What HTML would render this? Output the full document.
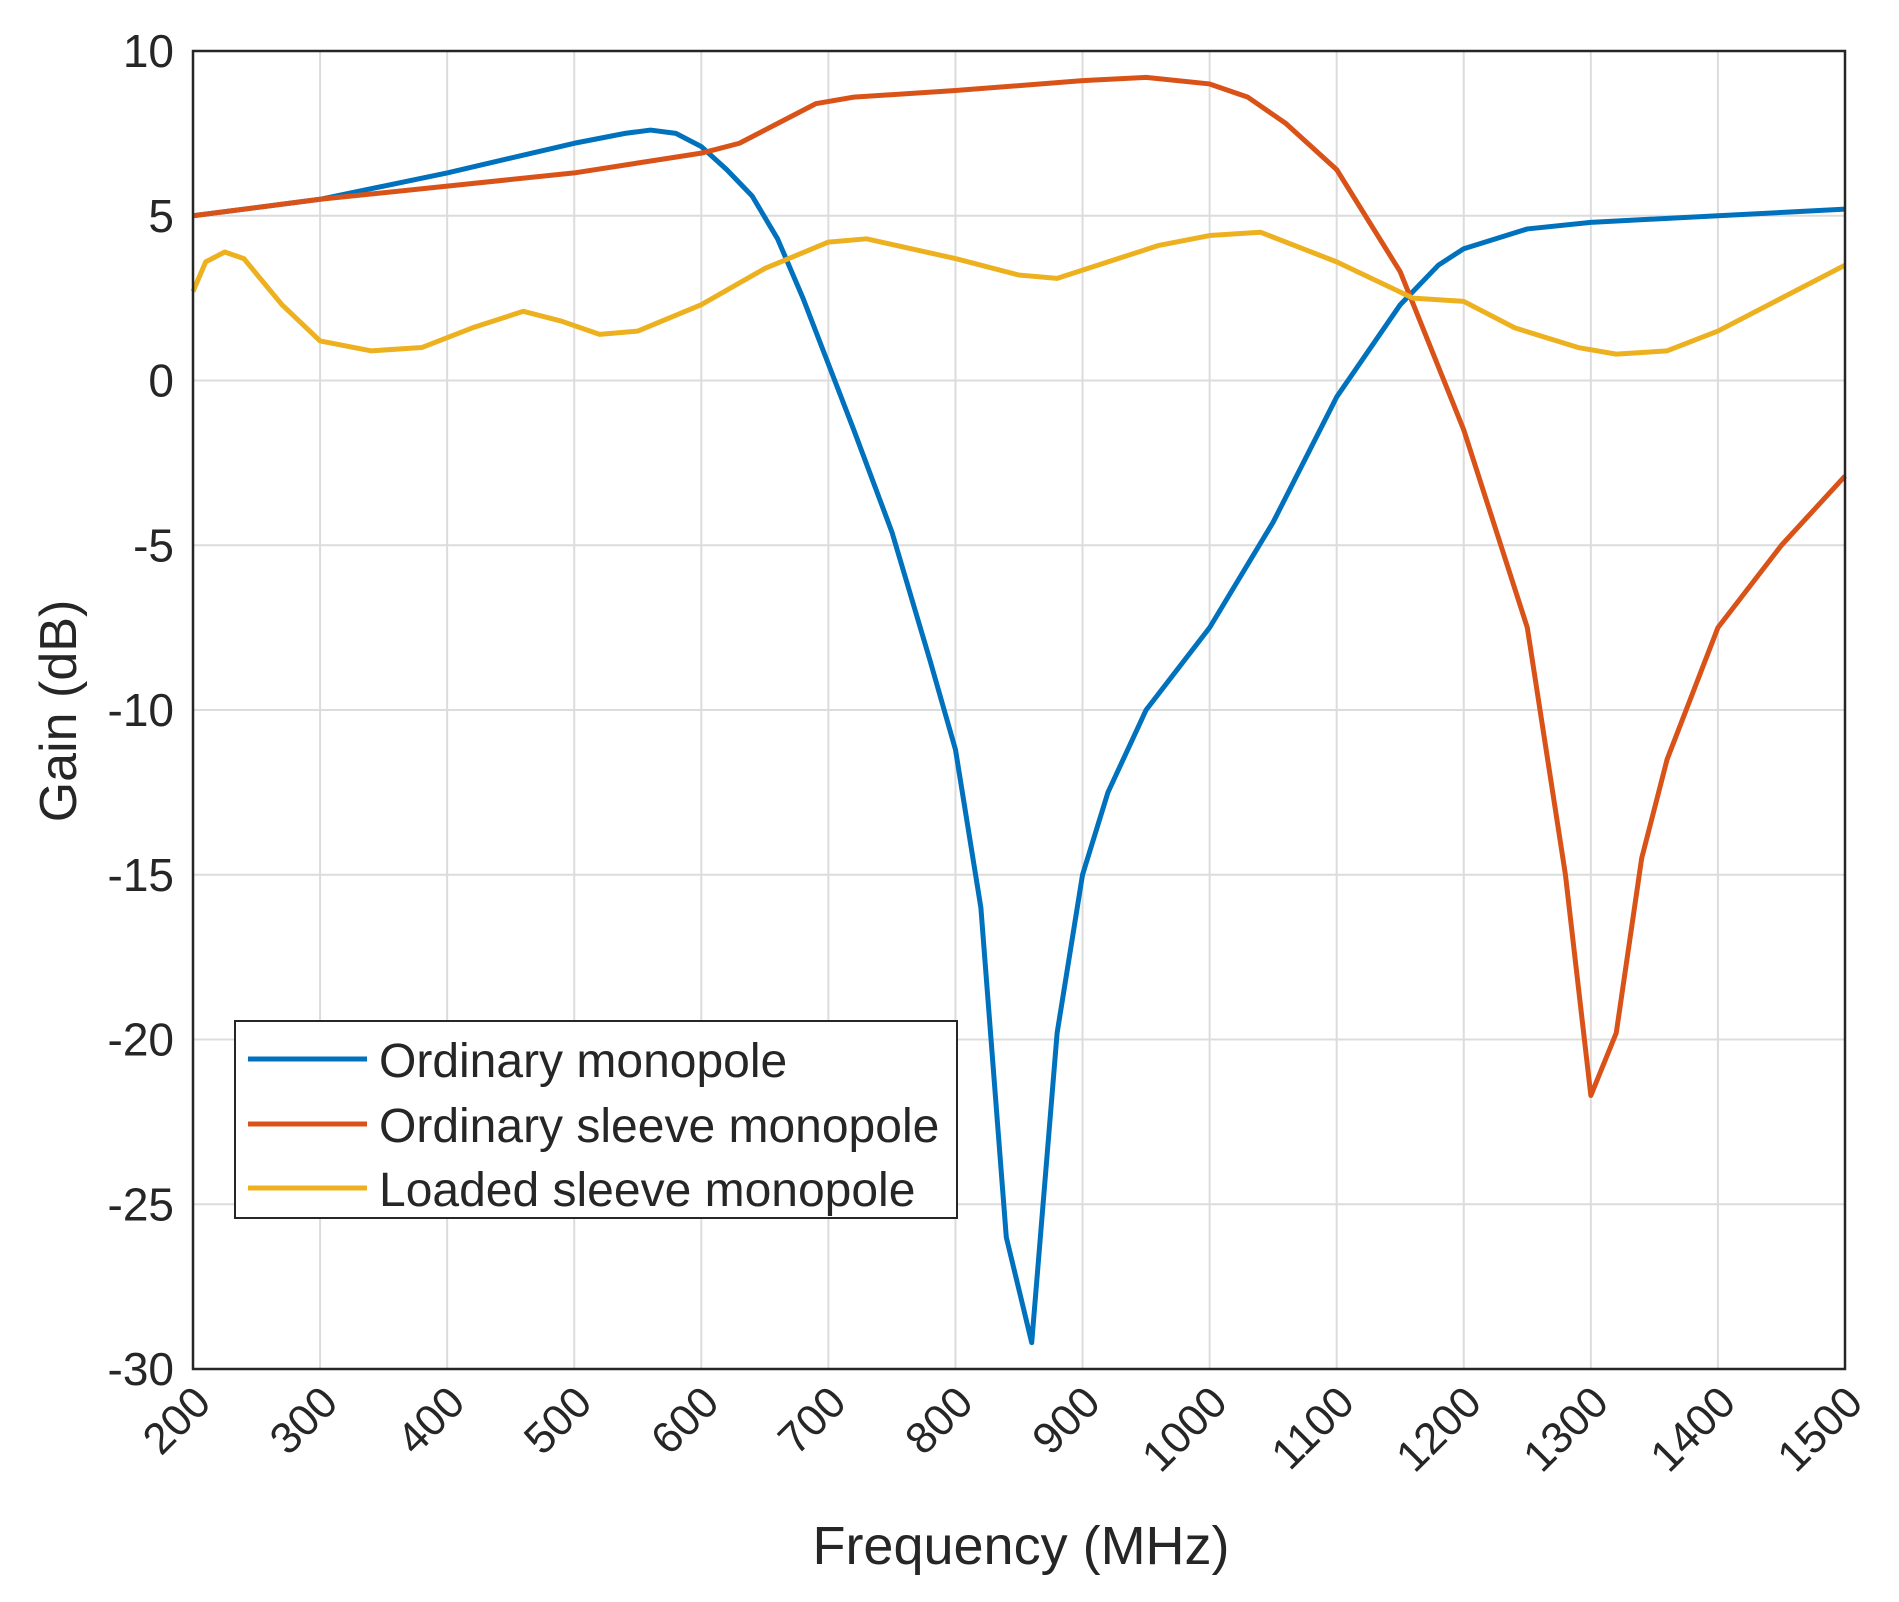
<!DOCTYPE html>
<html><head><meta charset="utf-8"><style>html,body{margin:0;padding:0;background:#fff}svg{display:block}text{font-family:"Liberation Sans",sans-serif;fill:#262626}</style></head>
<body>
<svg id="chart" width="1899" height="1602" viewBox="0 0 1899 1602" xmlns="http://www.w3.org/2000/svg">
<g id="grid"></g>
<g id="series"></g>
<rect x="193" y="51" width="1652" height="1318" fill="none" stroke="#262626" stroke-width="2.5"/>
<g id="ticks"></g>
<text x="1021" y="1564" font-size="54" text-anchor="middle">Frequency (MHz)</text>
<text transform="translate(76,711) rotate(-90)" font-size="52" text-anchor="middle">Gain (dB)</text>
<g>
<rect x="235" y="1021" width="722" height="197" fill="#fff" stroke="#262626" stroke-width="2"/>
<line x1="248" y1="1059" x2="367" y2="1059" stroke="#0072BD" stroke-width="5"/>
<text x="379" y="1077" font-size="48">Ordinary monopole</text>
<line x1="248" y1="1124" x2="367" y2="1124" stroke="#D95319" stroke-width="5"/>
<text x="379" y="1142" font-size="48">Ordinary sleeve monopole</text>
<line x1="248" y1="1188" x2="367" y2="1188" stroke="#EDB120" stroke-width="5"/>
<text x="379" y="1206" font-size="48">Loaded sleeve monopole</text>
</g>
</svg>
<script>
const xTicks=[200,300,400,500,600,700,800,900,1000,1100,1200,1300,1400,1500];
const yTicks=[10,5,0,-5,-10,-15,-20,-25,-30];
const blueF=[200,300,400,500,540,560,580,600,620,640,660,680,700,720,750,780,800,820,840,860,880,900,920,950,1000,1050,1100,1150,1180,1200,1250,1300,1400,1500];
const blueG=[5.0,5.5,6.3,7.2,7.5,7.6,7.5,7.1,6.4,5.6,4.3,2.5,0.5,-1.5,-4.6,-8.5,-11.2,-16,-26,-29.2,-19.8,-15,-12.5,-10,-7.5,-4.3,-0.5,2.3,3.5,4.0,4.6,4.8,5.0,5.2];
const orangeF=[200,300,400,500,600,630,660,690,720,800,900,950,1000,1030,1060,1100,1150,1200,1250,1280,1300,1320,1340,1360,1400,1450,1500];
const orangeG=[5.0,5.5,5.9,6.3,6.9,7.2,7.8,8.4,8.6,8.8,9.1,9.2,9.0,8.6,7.8,6.4,3.3,-1.5,-7.5,-15,-21.7,-19.8,-14.5,-11.5,-7.5,-5,-2.9];
const yellowF=[200,210,225,240,270,300,340,380,420,460,490,520,550,600,650,700,730,800,850,880,920,960,1000,1040,1100,1160,1200,1240,1290,1320,1360,1400,1450,1500];
const yellowG=[2.7,3.6,3.9,3.7,2.3,1.2,0.9,1.0,1.6,2.1,1.8,1.4,1.5,2.3,3.4,4.2,4.3,3.7,3.2,3.1,3.6,4.1,4.4,4.5,3.6,2.5,2.4,1.6,1.0,0.8,0.9,1.5,2.5,3.5];
const NS='http://www.w3.org/2000/svg';
const X0=193,X1=1845,Y0=51,Y1=1369;
function sx(f){return X0+(f-200)/1300*(X1-X0);}
function sy(g){return Y0+(10-g)/40*(Y1-Y0);}
const grid=document.getElementById('grid'),ticks=document.getElementById('ticks'),series=document.getElementById('series');
xTicks.forEach(t=>{
 const l=document.createElementNS(NS,'line');
 
 
 l.setAttribute('x1',sx(t));l.setAttribute('x2',sx(t));l.setAttribute('y1',Y0);l.setAttribute('y2',Y1);
 l.setAttribute('stroke','#dcdcdc');l.setAttribute('stroke-width','2');grid.appendChild(l);
 const tx=document.createElementNS(NS,'text');
 
 
 tx.setAttribute('font-size','44');tx.setAttribute('text-anchor','end');
 tx.setAttribute('transform','translate('+(sx(t)+20)+','+(Y1+36)+') rotate(-45)');
 tx.textContent=t;ticks.appendChild(tx);
});
yTicks.forEach(t=>{
 const l=document.createElementNS(NS,'line');
 
 
 l.setAttribute('x1',X0);l.setAttribute('x2',X1);l.setAttribute('y1',sy(t));l.setAttribute('y2',sy(t));
 l.setAttribute('stroke','#dcdcdc');l.setAttribute('stroke-width','2');grid.appendChild(l);
 const tx=document.createElementNS(NS,'text');
 
 
 tx.setAttribute('font-size','46');tx.setAttribute('text-anchor','end');
 tx.setAttribute('x',174);tx.setAttribute('y',sy(t)+16);
 tx.textContent=t;ticks.appendChild(tx);
});
function draw(F,G,c,name){
 const p=document.createElementNS(NS,'polyline');
 
 
 p.setAttribute('points',F.map((f,i)=>sx(f)+','+sy(G[i])).join(' '));
 p.setAttribute('fill','none');p.setAttribute('stroke',c);p.setAttribute('stroke-width','5');p.setAttribute('stroke-linejoin','round');
 series.appendChild(p);
}
draw(blueF,blueG,'#0072BD','ordinary-monopole-line');
draw(orangeF,orangeG,'#D95319','ordinary-sleeve-monopole-line');
draw(yellowF,yellowG,'#EDB120','loaded-sleeve-monopole-line');
</script>
</body></html>
